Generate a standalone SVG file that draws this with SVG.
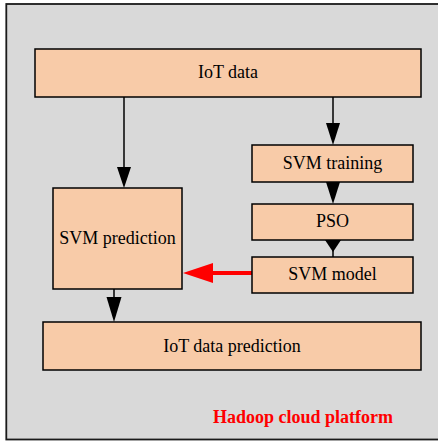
<svg xmlns="http://www.w3.org/2000/svg" width="438" height="441" viewBox="0 0 438 441">
  <style>
    .frame { fill: #d9d9d9; stroke: #1a1a1a; stroke-width: 1.8; }
    .box { fill: #f8cba8; stroke: #000; stroke-width: 1.5; }
    .label { font-family: "Liberation Serif", "Times New Roman", serif; font-size: 18px; fill: #000; text-anchor: middle; }
    .title { font-family: "Liberation Serif", "Times New Roman", serif; font-size: 18px; font-weight: bold; fill: #ff0000; text-anchor: middle; }
    .edge { stroke: #000; stroke-width: 1.5; fill: none; }
    .head { fill: #000; }
    .edge-red { stroke: #ff0000; stroke-width: 4; fill: none; }
    .head-red { fill: #ff0000; }
  </style>

  <!-- platform frame (right side runs past the canvas edge) -->
  <rect class="frame" x="6.3" y="4" width="440" height="435.5"/>
  <text class="title" x="303" y="423">Hadoop cloud platform</text>

  <g id="connectors">
    <!-- IoT data -> SVM prediction -->
    <line class="edge" x1="124" y1="97" x2="124" y2="168"/>
    <polygon class="head" points="117,167 131,167 124,188"/>
    <!-- IoT data -> SVM training -->
    <line class="edge" x1="333" y1="97" x2="333" y2="124"/>
    <polygon class="head" points="326,123 340,123 333,145"/>
    <!-- SVM training -> PSO -->
    <polygon class="head" points="326,182 340,182 333,204"/>
    <!-- PSO -> SVM model -->
    <polygon class="head" points="325,240 341,240 333,252"/>
    <line class="edge" x1="333" y1="250" x2="333" y2="257"/>
    <!-- SVM model -> SVM prediction -->
    <line class="edge-red" x1="254" y1="273" x2="210" y2="273"/>
    <polygon class="head-red" points="213,263 213,283 183,273"/>
    <!-- SVM prediction -> IoT data prediction -->
    <line class="edge" x1="114" y1="289" x2="114" y2="298"/>
    <polygon class="head" points="106.5,297 121.5,297 114,322"/>
  </g>

  <g id="iot-data">
    <rect class="box" x="35" y="49" width="386" height="48"/>
    <text class="label" x="228" y="78">IoT data</text>
  </g>

  <g id="svm-training">
    <rect class="box" x="252" y="145" width="161" height="37"/>
    <text class="label" x="332.5" y="169">SVM training</text>
  </g>

  <g id="pso">
    <rect class="box" x="252" y="204" width="161" height="36"/>
    <text class="label" x="332.5" y="227">PSO</text>
  </g>

  <g id="svm-model">
    <rect class="box" x="252" y="257" width="161" height="36"/>
    <text class="label" x="332.5" y="280">SVM model</text>
  </g>

  <g id="svm-prediction">
    <rect class="box" x="53" y="188" width="129" height="101"/>
    <text class="label" x="117.5" y="244">SVM prediction</text>
  </g>

  <g id="iot-data-prediction">
    <rect class="box" x="43" y="322" width="378" height="48"/>
    <text class="label" x="232" y="352">IoT data prediction</text>
  </g>
</svg>
